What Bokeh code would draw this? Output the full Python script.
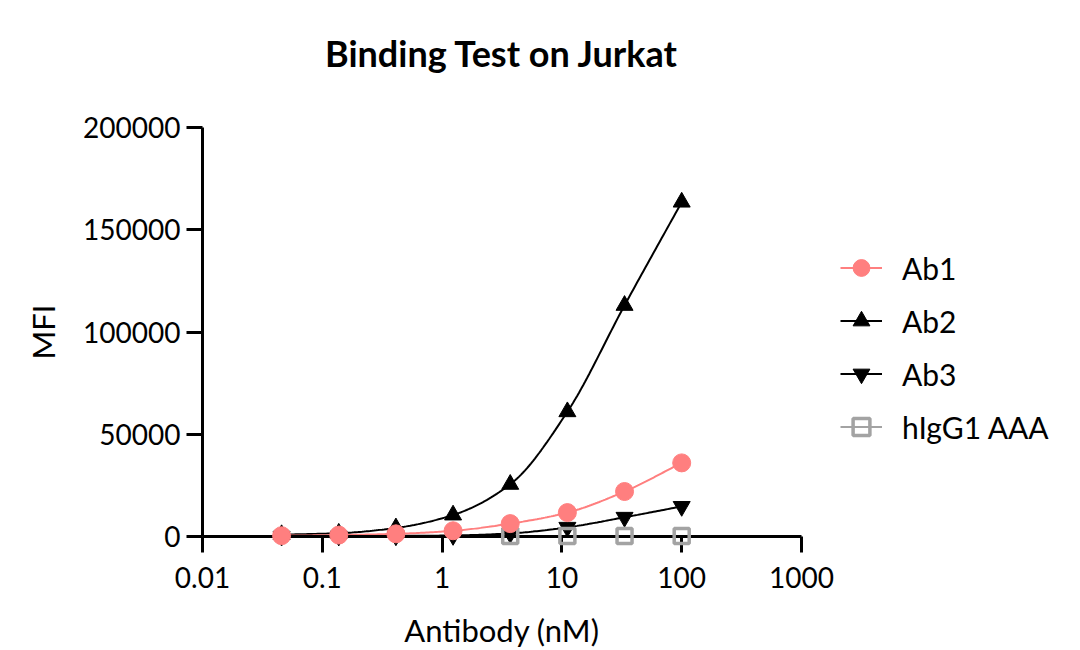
import numpy as np
from bokeh.plotting import figure
from bokeh.models import FixedTicker, Legend, LegendItem, Title
from bokeh.embed import file_html
from bokeh.resources import INLINE

# ---- data ----
conc = [0.04572, 0.1372, 0.4115, 1.2346, 3.7037, 11.111, 33.333, 100.0]
ab1 = [400, 700, 1300, 2800, 6300, 11700, 22000, 36000]
ab2 = [900, 1600, 4200, 10500, 25500, 61000, 113000, 163500]
ab3 = [150, 200, 300, 500, 1500, 4500, 9400, 14700]
higg_conc = [3.7037, 11.111, 33.333, 100.0]
higg = [200, 200, 200, 250]

x_ticks = [0.01, 0.1, 1, 10, 100, 1000]
x_tick_labels = ["0.01", "0.1", "1", "10", "100", "1000"]
y_ticks = [0, 50000, 100000, 150000, 200000]
y_tick_labels = ["0", "50000", "100000", "150000", "200000"]

FONT = "Lato"


def smooth(xs, ys, n=200):
    """Monotone cubic (PCHIP) curve through the points, in log10(x)."""
    x = np.log10(np.asarray(xs, float))
    y = np.asarray(ys, float)
    h = np.diff(x)
    d = np.diff(y) / h
    m = np.zeros_like(y)
    m[0], m[-1] = d[0], d[-1]
    for k in range(1, len(y) - 1):
        if d[k - 1] * d[k] <= 0:
            m[k] = 0.0
        else:
            w1 = 2 * h[k] + h[k - 1]
            w2 = h[k] + 2 * h[k - 1]
            m[k] = (w1 + w2) / (w1 / d[k - 1] + w2 / d[k])
    xn = np.linspace(x[0], x[-1], n)
    idx = np.clip(np.searchsorted(x, xn) - 1, 0, len(x) - 2)
    t = (xn - x[idx]) / h[idx]
    h00 = 2 * t**3 - 3 * t**2 + 1
    h10 = t**3 - 2 * t**2 + t
    h01 = -2 * t**3 + 3 * t**2
    h11 = t**3 - t**2
    yn = h00 * y[idx] + h10 * h[idx] * m[idx] + h01 * y[idx + 1] + h11 * h[idx] * m[idx + 1]
    return 10**xn, yn


p = figure(
    x_axis_type="log",
    x_range=(0.01, 1000),
    y_range=(0, 200000),
    frame_width=599,
    frame_height=409,
    min_border_left=202,
    min_border_right=263,
    min_border_top=127,
    min_border_bottom=100,
    output_backend="svg",
    toolbar_location=None,
    title=None,
)
p.outline_line_color = None
p.xgrid.visible = False
p.ygrid.visible = False
p.background_fill_color = "white"
p.border_fill_color = "white"

# spacer panel between frame and title, then the real title above it
p.add_layout(Title(text=" ", text_font_size="10px", standoff=35), "above")
p.add_layout(
    Title(
        text="Binding Test on Jurkat",
        text_font=FONT,
        text_font_style="bold",
        text_font_size="36px",
        text_color="black",
        align="center",
        standoff=10,
    ),
    "above",
)

for ax in (p.xaxis[0], p.yaxis[0]):
    ax.axis_line_width = 3
    ax.axis_line_color = "black"
    ax.major_tick_line_width = 3
    ax.major_tick_line_color = "black"
    ax.major_tick_out = 16
    ax.major_tick_in = 0
    ax.minor_tick_line_color = None
    ax.major_label_text_font = FONT
    ax.major_label_text_font_size = "28px"
    ax.major_label_text_color = "black"
    ax.axis_label_text_font = FONT
    ax.axis_label_text_font_size = "31px"
    ax.axis_label_text_font_style = "normal"
    ax.axis_label_text_color = "black"

p.xaxis.ticker = FixedTicker(ticks=x_ticks, minor_ticks=[])
p.xaxis.major_label_overrides = {t: l for t, l in zip(x_ticks, x_tick_labels)}
p.xaxis.axis_label = "Antibody (nM)"
p.xaxis.major_label_standoff = 14
p.xaxis.axis_label_standoff = 20

p.yaxis.ticker = FixedTicker(ticks=y_ticks, minor_ticks=[])
p.yaxis.major_label_overrides = {t: l for t, l in zip(y_ticks, y_tick_labels)}
p.yaxis.axis_label = "MFI"
p.yaxis.major_label_standoff = 6
p.yaxis.axis_label_standoff = 18

PINK = "#FF7F7F"
GRAY = "#A3A3A3"

# Ab2
cx, cy = smooth(conc, ab2)
l2 = p.line(cx, cy, line_color="black", line_width=2)
s2 = p.scatter(conc, ab2, marker="triangle", size=17, fill_color="black", line_color="black", level="overlay")
# Ab3
cx, cy = smooth(conc, ab3)
l3 = p.line(cx, cy, line_color="black", line_width=2)
s3 = p.scatter(conc, ab3, marker="inverted_triangle", size=17, fill_color="black", line_color="black", level="overlay")
# hIgG1 AAA
lh = p.line(higg_conc, higg, line_color=GRAY, line_width=2)
sh = p.scatter(higg_conc, higg, marker="square", size=15, fill_color=None, line_color=GRAY, line_width=3.5, level="overlay")
# Ab1
cx, cy = smooth(conc, ab1)
l1 = p.line(cx, cy, line_color=PINK, line_width=2)
s1 = p.scatter(conc, ab1, marker="circle", size=18, fill_color=PINK, line_color=PINK, level="overlay")

legend = Legend(
    items=[
        LegendItem(label="Ab1", renderers=[l1, s1]),
        LegendItem(label="Ab2", renderers=[l2, s2]),
        LegendItem(label="Ab3", renderers=[l3, s3]),
        LegendItem(label="hIgG1 AAA", renderers=[lh, sh]),
    ],
    location=(39, 88),
    label_text_font=FONT,
    label_text_font_size="30px",
    label_text_color="black",
    glyph_width=42,
    glyph_height=43,
    label_height=36,
    spacing=10,
    label_standoff=20,
    padding=0,
    margin=0,
    border_line_color=None,
    background_fill_alpha=0,
)
p.add_layout(legend, "right")

open("out.html", "w").write(file_html(p, INLINE))
